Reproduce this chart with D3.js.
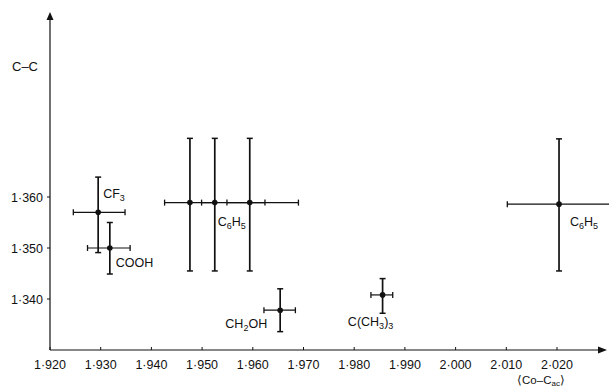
<!DOCTYPE html>
<html>
<head>
<meta charset="utf-8">
<script src="https://cdn.jsdelivr.net/npm/d3@7"></script>
<style>
  html, body { margin: 0; padding: 0; background: #fff; }
  svg { display: block; font-family: "Liberation Sans", Arial, Helvetica, sans-serif; }
</style>
</head>
<body>
<svg id="chart" width="609" height="387"></svg>
<script>
// ---- data ----
const labels = ["CF3", "COOH", "C6H5", "C6H5", "C6H5", "CH2OH", "C(CH3)3", "C6H5"];
const coCc   = [1.9295, 1.9318, 1.9476, 1.9525, 1.9594, 1.9654, 1.9856, 2.0204];
const ccBond = [1.3570, 1.3500, 1.3589, 1.3589, 1.3589, 1.3378, 1.3408, 1.3586];
const coCcLo = [1.9246, 1.9274, 1.9426, 1.9499, 1.9549, 1.9622, 1.9833, 2.0102];
const coCcHi = [1.9348, 1.9358, 1.9525, 1.9624, 1.9690, 1.9684, 1.9876, 2.0320];
const ccLo   = [1.3491, 1.3449, 1.3455, 1.3455, 1.3455, 1.3336, 1.3372, 1.3455];
const ccHi   = [1.3639, 1.3550, 1.3715, 1.3715, 1.3715, 1.3420, 1.3440, 1.3714];
const showLabel = [true, true, false, true, false, true, true, true];
const xTicks = [1.920, 1.930, 1.940, 1.950, 1.960, 1.970, 1.980, 1.990, 2.000, 2.010, 2.020];
const yTicks = [1.340, 1.350, 1.360];
const xTitle = "\u27E8Co\u2013C";
const xTitleSub = "ac";
const yTitle = "C\u2013C";

// ---- layout ----
const svg = d3.select("#chart");
const x = d3.scaleLinear().domain([1.920, 2.020]).range([50, 557]);
const y = d3.scaleLinear().domain([1.330, 1.360]).range([350, 197]);
const fmt = v => d3.format(".3f")(v).replace(".", "\u00B7");
const ink = "#111";

// axes lines
const x0 = x(1.920), yAx = y(1.330);
svg.append("line").attr("x1", x0).attr("x2", 600).attr("y1", yAx).attr("y2", yAx)
  .attr("stroke", ink).attr("stroke-width", 1.2);
svg.append("line").attr("x1", x0).attr("x2", x0).attr("y1", yAx).attr("y2", 18)
  .attr("stroke", ink).attr("stroke-width", 1.2);
// arrowheads
svg.append("path").attr("d", `M${x0},12 L${x0-3.5},20 L${x0+3.5},20 Z`).attr("fill", ink);
svg.append("path").attr("d", `M607,${yAx} L598,${yAx-3.5} L598,${yAx+3.5} Z`).attr("fill", ink);

// x ticks
const xg = svg.append("g");
xg.selectAll("line").data(xTicks).join("line")
  .attr("x1", d => x(d)).attr("x2", d => x(d))
  .attr("y1", yAx).attr("y2", yAx - 3)
  .attr("stroke", ink).attr("stroke-width", 1);
xg.selectAll("text").data(xTicks).join("text")
  .attr("x", d => x(d)).attr("y", yAx + 19)
  .attr("text-anchor", "middle").attr("font-size", 12.5).attr("fill", ink)
  .text(fmt);

// y ticks
const yg = svg.append("g");
yg.selectAll("line").data(yTicks).join("line")
  .attr("x1", x0 - 3).attr("x2", x0)
  .attr("y1", d => y(d)).attr("y2", d => y(d))
  .attr("stroke", ink).attr("stroke-width", 1);
yg.selectAll("text").data(yTicks).join("text")
  .attr("x", x0 - 7).attr("y", d => y(d) + 4.5)
  .attr("text-anchor", "end").attr("font-size", 12.5).attr("fill", ink)
  .text(fmt);

// axis titles
svg.append("text").attr("x", 12).attr("y", 71).attr("font-size", 13).attr("fill", ink).text(yTitle);
const xt = svg.append("text").attr("x", 541).attr("y", 384).attr("text-anchor", "middle")
  .attr("font-size", 11.5).attr("fill", ink);
xt.append("tspan").text(xTitle);
xt.append("tspan").attr("font-size", 8).attr("dy", 2).text(xTitleSub);
xt.append("tspan").attr("dy", -2).text("\u27E9");

// error bars
const idx = d3.range(labels.length);
const g = svg.append("g");
const cap = 3;
idx.forEach(i => {
  const cx = x(coCc[i]), cy = y(ccBond[i]);
  const xl = x(coCcLo[i]), xh = x(coCcHi[i]);
  const yl = y(ccLo[i]), yh = y(ccHi[i]);
  // horizontal bar
  g.append("line").attr("x1", xl).attr("x2", xh).attr("y1", cy).attr("y2", cy)
    .attr("stroke", ink).attr("stroke-width", 1.2);
  [xl, xh].forEach(v => g.append("line").attr("x1", v).attr("x2", v)
    .attr("y1", cy - cap).attr("y2", cy + cap).attr("stroke", ink).attr("stroke-width", 1.3));
  // vertical bar
  g.append("line").attr("x1", cx).attr("x2", cx).attr("y1", yl).attr("y2", yh)
    .attr("stroke", ink).attr("stroke-width", 1.7);
  [yl, yh].forEach(v => g.append("line").attr("x1", cx - cap).attr("x2", cx + cap)
    .attr("y1", v).attr("y2", v).attr("stroke", ink).attr("stroke-width", 1.5));
  g.append("circle").attr("cx", cx).attr("cy", cy).attr("r", 2.8).attr("fill", ink);
});

// labels with subscripts (offsets relative to the point)
const labelOffset = {
  0: [5, -14, "start"], 1: [6, 19, "start"], 3: [3, 23, "start"],
  5: [-13, 18, "end"], 6: [-12, 31, "middle"], 7: [11, 22, "start"]
};
idx.filter(i => showLabel[i]).forEach(i => {
  const [dx, dy, anchor] = labelOffset[i];
  const t = svg.append("text").attr("x", x(coCc[i]) + dx).attr("y", y(ccBond[i]) + dy)
    .attr("text-anchor", anchor).attr("font-size", 12.5).attr("fill", ink);
  const parts = labels[i].split(/(\d)/).filter(s => s.length);
  let sub = false;
  parts.forEach(p => {
    const isDigit = /\d/.test(p);
    const ts = t.append("tspan").text(p);
    if (isDigit && !sub) { ts.attr("font-size", 9).attr("dy", 3); sub = true; }
    else if (!isDigit && sub) { ts.attr("dy", -3); sub = false; }
    else if (isDigit) ts.attr("font-size", 9);
  });
});
</script>
</body>
</html>
